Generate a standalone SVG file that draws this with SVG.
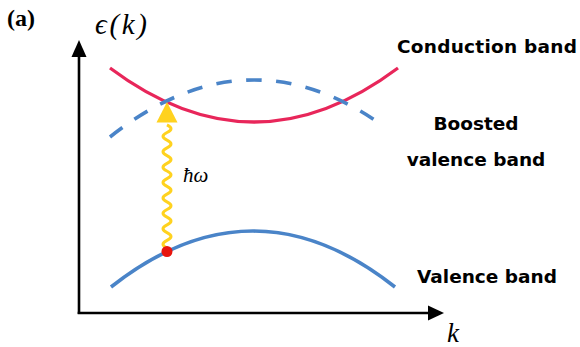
<svg xmlns="http://www.w3.org/2000/svg" width="580" height="347" viewBox="0 0 580 347">
<style>
.lbl{font-family:"DejaVu Sans","Noto Sans",sans-serif;font-weight:bold;font-size:18.5px;fill:#000}
.math{font-family:"Liberation Serif","DejaVu Serif",serif;font-style:italic;fill:#000}
.tag{font-family:"Liberation Serif","DejaVu Serif",serif;font-weight:bold;font-size:24px;fill:#000}
.axis{stroke:#000;stroke-width:2.6;fill:none}
.band{fill:none;stroke-linecap:butt}
</style>
<rect width="580" height="347" fill="#fff"/>
<text class="tag" x="7" y="26">(a)</text>
<g id="axes">
<line class="axis" x1="79" y1="314" x2="79" y2="57"/>
<path d="M71.5,57 L79,40 L86.5,57 Z" fill="#000"/>
<line class="axis" x1="77.7" y1="313" x2="428" y2="313"/>
<path d="M428,305.5 L444,313 L428,320.5 Z" fill="#000"/>
<text class="math" x="95" y="34" font-size="29" textLength="52" lengthAdjust="spacing">ϵ(k)</text>
<text class="math" x="447" y="342" font-size="27">k</text>
</g>
<g id="conduction-band">
<path class="band" d="M110,68 Q254,176 398,68" stroke="#E8265A" stroke-width="3.2"/>
<text class="lbl" x="397" y="53" textLength="180" lengthAdjust="spacing">Conduction band</text>
</g>
<g id="boosted-valence-band">
<path class="band" d="M110,137 Q247,28.5 384,126.4" stroke="#4A84C8" stroke-width="3.6" stroke-dasharray="15.5 14.5"/>
<text class="lbl" x="476" y="130" text-anchor="middle">Boosted</text>
<text class="lbl" x="476" y="166" text-anchor="middle">valence band</text>
</g>
<g id="valence-band">
<path class="band" d="M111,287 Q253,175 395,287" stroke="#4A84C8" stroke-width="3.6"/>
<text class="lbl" x="417" y="283">Valence band</text>
</g>
<g id="photon">
<path d="M167,248 q-8,-3.85 0,-7.7 q8,-3.85 0,-7.7 q-8,-3.85 0,-7.7 q8,-3.85 0,-7.7 q-8,-3.85 0,-7.7 q8,-3.85 0,-7.7 q-8,-3.85 0,-7.7 q8,-3.85 0,-7.7 q-8,-3.85 0,-7.7 q8,-3.85 0,-7.7 q-8,-3.85 0,-7.7 q8,-3.85 0,-7.7 q-8,-3.85 0,-7.7 q8,-3.85 0,-7.7 q-8,-3.85 0,-7.7 q8,-3.85 0,-7.7" fill="none" stroke="#FFD21F" stroke-width="3"/>
<path d="M156.5,122.5 L167,102 L177.5,122.5 Z" fill="#FFD21F"/>
<circle cx="167" cy="251.5" r="5.5" fill="#E8150E"/>
<text class="math" x="183" y="182" font-size="21">ħω</text>
</g>
</svg>
